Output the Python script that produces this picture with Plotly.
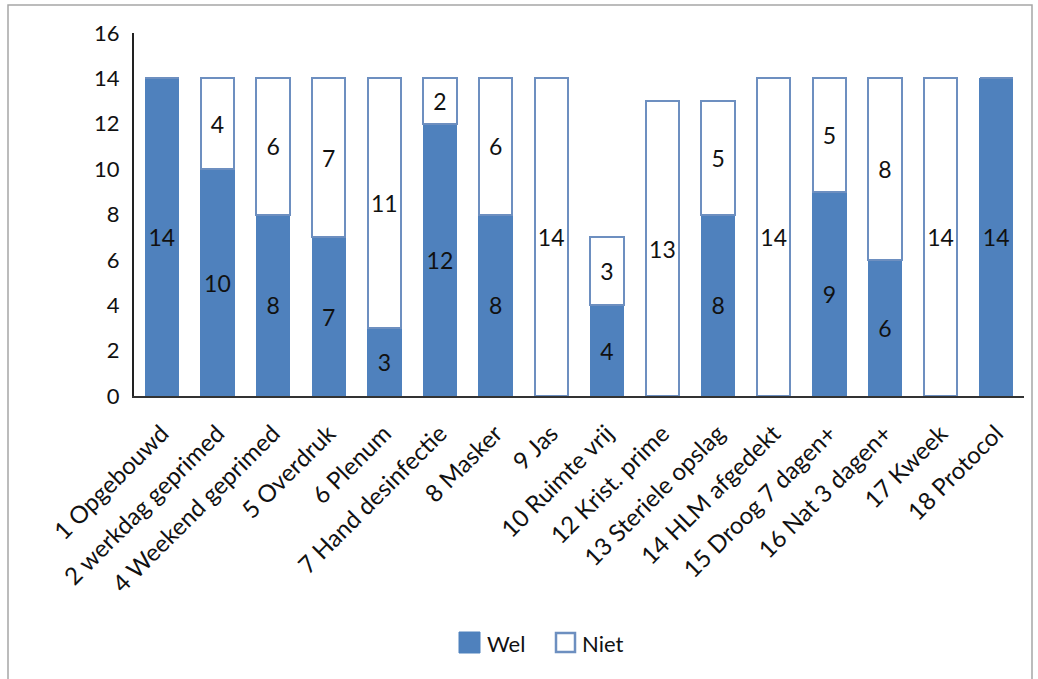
import plotly.graph_objects as go

categories = ["1 Opgebouwd", "2 werkdag geprimed", "4 Weekend geprimed", "5 Overdruk",
              "6 Plenum", "7 Hand desinfectie", "8 Masker", "9 Jas", "10 Ruimte vrij",
              "12 Krist. prime", "13 Steriele opslag", "14 HLM afgedekt", "15 Droog 7 dagen+",
              "16 Nat 3 dagen+", "17 Kweek", "18 Protocol"]
wel = [14, 10, 8, 7, 3, 12, 8, 0, 4, 0, 8, 0, 9, 6, 0, 14]
niet = [0, 4, 6, 7, 11, 2, 6, 14, 3, 13, 5, 14, 5, 8, 14, 0]
y_ticks = [0, 2, 4, 6, 8, 10, 12, 14, 16]
series_names = ["Wel", "Niet"]

BLUE = "#4F81BD"
EDGE = "#6d8fc0"
FONT = "Lato, Open Sans, sans-serif"
TXT = "#111111"

fig = go.Figure()
fig.add_trace(go.Bar(
    name=series_names[0], x=categories, y=wel, showlegend=False,
    marker=dict(color=BLUE, line=dict(color=BLUE, width=1)),
    text=[str(v) if v else "" for v in wel],
    textposition="inside", insidetextanchor="middle", textangle=0,
    constraintext="none",
    textfont=dict(color=TXT, size=23, family=FONT),
))
fig.add_trace(go.Bar(
    name=series_names[1], x=categories, y=niet, showlegend=False,
    marker=dict(color="white", line=dict(color=EDGE, width=2)),
    text=[str(v) if v else "" for v in niet],
    textposition="inside", insidetextanchor="middle", textangle=0,
    constraintext="none",
    textfont=dict(color=TXT, size=23, family=FONT),
))

fig.update_layout(
    barmode="stack",
    bargap=0.4,
    width=1038, height=679,
    margin=dict(l=134, r=14, t=33, b=283),
    paper_bgcolor="white", plot_bgcolor="white",
    font=dict(family=FONT, size=22, color=TXT),
    showlegend=False,
)
fig.update_xaxes(
    tickangle=-45, showline=True, linecolor="#333333", linewidth=2,
    showgrid=False, ticks="", tickfont=dict(size=24, color=TXT),
    ticklabelstandoff=12,
)
fig.update_yaxes(
    range=[0, 16], tickvals=y_ticks, showline=True, linecolor="#222222", linewidth=2,
    showgrid=False, ticks="", zeroline=False, tickfont=dict(size=22, color=TXT),
    ticklabelstandoff=8,
)

# outer chart border
PW, PH = 890, 363
def px(xp):
    return (xp - 134) / PW
def py(yp):
    return (396 - yp) / PH

fig.add_shape(type="rect", xref="paper", yref="paper",
              x0=px(8), x1=px(1032), y0=py(700), y1=py(5),
              line=dict(color="#a6a6a6", width=1.5), fillcolor="rgba(0,0,0,0)", layer="below")

# manual legend (larger symbols, as in the reference)
fig.add_shape(type="rect", xref="paper", yref="paper",
              x0=px(459), x1=px(480), y0=py(653), y1=py(632),
              line=dict(color=BLUE, width=1), fillcolor=BLUE)
fig.add_shape(type="rect", xref="paper", yref="paper",
              x0=px(556), x1=px(575), y0=py(652), y1=py(633),
              line=dict(color=EDGE, width=2.5), fillcolor="white")
fig.add_annotation(xref="paper", yref="paper", x=px(485), y=py(643), text=series_names[0],
                   showarrow=False, xanchor="left", yanchor="middle",
                   font=dict(size=22, color=TXT, family=FONT))
fig.add_annotation(xref="paper", yref="paper", x=px(580), y=py(643), text=series_names[1],
                   showarrow=False, xanchor="left", yanchor="middle",
                   font=dict(size=22, color=TXT, family=FONT))

fig.write_html("out.html")
